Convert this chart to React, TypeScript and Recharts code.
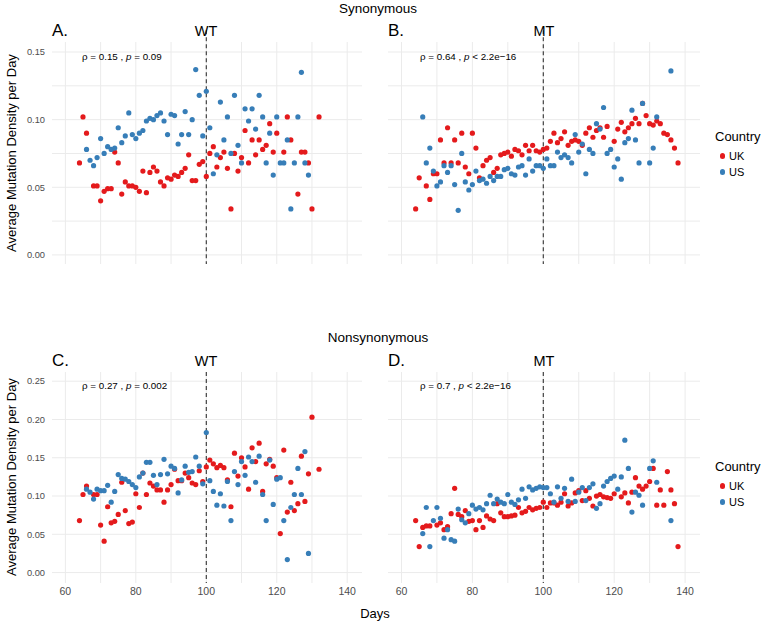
import React from "react";
import {
  ScatterChart,
  Scatter,
  XAxis,
  YAxis,
  CartesianGrid,
  ReferenceLine,
} from "recharts";

// [day, average mutation density]
const synWtUK: [number, number][] = [
  [64, 0.068], [65, 0.102], [66, 0.09], [68, 0.051], [69, 0.051], [70, 0.04], [71, 0.047], [72, 0.049],
  [73, 0.049], [74, 0.076], [75, 0.068], [76, 0.045], [77, 0.054], [78, 0.051], [79, 0.051], [80, 0.05],
  [81, 0.047], [82, 0.062], [83, 0.046], [84, 0.061], [85, 0.065], [86, 0.062], [87, 0.054], [88, 0.051],
  [89, 0.057], [90, 0.056], [91, 0.059], [92, 0.058], [93, 0.061], [94, 0.064], [95, 0.074], [96, 0.055],
  [97, 0.055], [98, 0.067], [99, 0.069], [100, 0.058], [101, 0.075], [102, 0.08], [103, 0.065], [104, 0.072],
  [105, 0.076], [106, 0.064], [107, 0.034], [108, 0.075], [109, 0.062], [110, 0.072], [111, 0.092], [112, 0.068],
  [113, 0.085], [114, 0.074], [115, 0.085], [116, 0.078], [117, 0.081], [118, 0.097], [119, 0.076], [120, 0.09],
  [122, 0.076], [123, 0.102], [124, 0.085], [126, 0.045], [127, 0.076], [128, 0.076], [129, 0.068], [130, 0.034],
  [132, 0.102],
];
const synWtUS: [number, number][] = [
  [66, 0.078], [67, 0.07], [68, 0.066], [69, 0.072], [70, 0.086], [71, 0.075], [72, 0.08], [73, 0.078],
  [74, 0.079], [75, 0.094], [76, 0.083], [77, 0.088], [78, 0.105], [79, 0.089], [80, 0.086], [81, 0.09],
  [82, 0.092], [83, 0.099], [84, 0.101], [85, 0.1], [86, 0.103], [87, 0.105], [88, 0.099], [89, 0.089],
  [90, 0.104], [91, 0.103], [92, 0.082], [93, 0.089], [94, 0.106], [95, 0.089], [96, 0.1], [97, 0.137],
  [98, 0.118], [99, 0.088], [100, 0.121], [101, 0.094], [102, 0.06], [103, 0.074], [104, 0.113], [105, 0.085],
  [106, 0.102], [107, 0.075], [108, 0.118], [109, 0.081], [110, 0.068], [111, 0.108], [112, 0.099], [113, 0.108],
  [114, 0.093], [115, 0.118], [116, 0.102], [117, 0.068], [118, 0.09], [119, 0.059], [120, 0.102], [121, 0.068],
  [122, 0.068], [123, 0.085], [124, 0.034], [125, 0.068], [126, 0.102], [127, 0.135], [128, 0.068], [129, 0.059],
];
const synMtUK: [number, number][] = [
  [64, 0.034], [65, 0.057], [67, 0.051], [68, 0.041], [69, 0.06], [70, 0.06], [71, 0.085], [72, 0.068],
  [73, 0.094], [74, 0.068], [75, 0.085], [76, 0.068], [77, 0.09], [78, 0.065], [79, 0.06], [80, 0.09],
  [81, 0.079], [82, 0.057], [83, 0.066], [84, 0.07], [85, 0.072], [86, 0.061], [87, 0.064], [88, 0.074],
  [89, 0.075], [90, 0.076], [91, 0.073], [92, 0.078], [93, 0.077], [94, 0.074], [95, 0.081], [96, 0.077],
  [97, 0.081], [98, 0.077], [99, 0.076], [100, 0.078], [101, 0.079], [102, 0.084], [103, 0.09], [104, 0.083],
  [105, 0.086], [106, 0.091], [107, 0.081], [108, 0.084], [109, 0.085], [110, 0.084], [111, 0.081], [112, 0.09],
  [113, 0.094], [114, 0.087], [115, 0.092], [116, 0.094], [117, 0.087], [118, 0.095], [120, 0.084], [121, 0.093],
  [122, 0.098], [123, 0.091], [124, 0.094], [125, 0.097], [126, 0.101], [127, 0.097], [128, 0.112], [129, 0.103],
  [130, 0.097], [131, 0.096], [132, 0.099], [133, 0.097], [134, 0.09], [135, 0.089], [136, 0.085], [137, 0.079],
  [138, 0.068],
];
const synMtUS: [number, number][] = [
  [66, 0.102], [67, 0.068], [68, 0.079], [69, 0.062], [70, 0.051], [71, 0.054], [72, 0.066], [73, 0.061],
  [74, 0.066], [75, 0.052], [76, 0.033], [77, 0.075], [78, 0.054], [79, 0.048], [80, 0.052], [81, 0.062],
  [82, 0.055], [83, 0.056], [84, 0.053], [85, 0.058], [86, 0.055], [87, 0.058], [88, 0.058], [89, 0.063],
  [90, 0.064], [91, 0.06], [92, 0.059], [93, 0.065], [94, 0.066], [95, 0.059], [96, 0.071], [97, 0.062],
  [98, 0.066], [99, 0.066], [100, 0.064], [101, 0.071], [102, 0.066], [103, 0.066], [104, 0.076], [105, 0.072],
  [106, 0.074], [107, 0.072], [108, 0.068], [109, 0.089], [110, 0.076], [111, 0.082], [112, 0.06], [113, 0.078],
  [114, 0.075], [115, 0.097], [116, 0.093], [117, 0.109], [118, 0.075], [119, 0.078], [120, 0.065], [121, 0.071],
  [122, 0.056], [123, 0.083], [124, 0.086], [125, 0.107], [126, 0.085], [127, 0.068], [128, 0.112], [130, 0.068],
  [131, 0.079], [132, 0.102], [136, 0.136],
];
const nonWtUK: [number, number][] = [
  [64, 0.068], [65, 0.102], [66, 0.113], [68, 0.102], [69, 0.102], [70, 0.062], [71, 0.041], [72, 0.086],
  [73, 0.065], [74, 0.067], [75, 0.076], [76, 0.118], [77, 0.081], [78, 0.064], [79, 0.066], [80, 0.103],
  [81, 0.085], [82, 0.13], [83, 0.102], [84, 0.117], [85, 0.113], [86, 0.108], [87, 0.108], [88, 0.092],
  [89, 0.108], [90, 0.115], [91, 0.135], [92, 0.12], [93, 0.12], [94, 0.13], [95, 0.124], [96, 0.117],
  [97, 0.115], [98, 0.133], [99, 0.119], [100, 0.138], [101, 0.147], [102, 0.142], [103, 0.137], [104, 0.14],
  [105, 0.137], [106, 0.121], [107, 0.086], [108, 0.156], [109, 0.126], [110, 0.15], [111, 0.138], [112, 0.109],
  [113, 0.163], [114, 0.145], [115, 0.169], [116, 0.106], [117, 0.142], [118, 0.148], [119, 0.139], [120, 0.124],
  [121, 0.051], [122, 0.16], [123, 0.079], [124, 0.118], [125, 0.081], [126, 0.09], [127, 0.152], [128, 0.093],
  [129, 0.129], [130, 0.203], [132, 0.135],
];
const nonWtUS: [number, number][] = [
  [66, 0.109], [67, 0.105], [68, 0.096], [69, 0.109], [70, 0.107], [71, 0.107], [72, 0.114], [73, 0.092],
  [74, 0.106], [75, 0.128], [76, 0.123], [77, 0.122], [78, 0.119], [79, 0.115], [80, 0.111], [81, 0.125],
  [82, 0.13], [83, 0.144], [84, 0.144], [85, 0.127], [86, 0.115], [87, 0.128], [88, 0.148], [89, 0.129],
  [90, 0.139], [91, 0.136], [92, 0.104], [93, 0.121], [94, 0.139], [95, 0.131], [96, 0.132], [97, 0.151],
  [98, 0.139], [99, 0.116], [100, 0.183], [101, 0.12], [102, 0.106], [103, 0.088], [104, 0.103], [105, 0.087],
  [106, 0.119], [107, 0.068], [108, 0.132], [109, 0.115], [110, 0.145], [111, 0.127], [112, 0.151], [113, 0.145],
  [114, 0.118], [115, 0.152], [116, 0.102], [117, 0.068], [118, 0.147], [119, 0.089], [120, 0.122], [121, 0.124],
  [122, 0.068], [123, 0.017], [124, 0.085], [125, 0.102], [126, 0.136], [127, 0.102], [128, 0.158], [129, 0.025],
];
const nonMtUK: [number, number][] = [
  [64, 0.068], [65, 0.034], [66, 0.059], [67, 0.061], [68, 0.061], [70, 0.062], [71, 0.065], [72, 0.056],
  [73, 0.06], [74, 0.077], [75, 0.11], [76, 0.076], [77, 0.073], [78, 0.081], [79, 0.067], [80, 0.068],
  [81, 0.056], [82, 0.068], [83, 0.059], [84, 0.074], [85, 0.07], [86, 0.068], [87, 0.09], [88, 0.078],
  [89, 0.073], [90, 0.073], [91, 0.074], [92, 0.075], [93, 0.085], [94, 0.078], [95, 0.08], [96, 0.085],
  [97, 0.082], [98, 0.084], [99, 0.085], [100, 0.092], [101, 0.085], [102, 0.091], [103, 0.091], [104, 0.088],
  [105, 0.092], [106, 0.103], [107, 0.087], [108, 0.091], [109, 0.104], [110, 0.107], [111, 0.094], [112, 0.107],
  [113, 0.097], [114, 0.087], [115, 0.1], [116, 0.102], [117, 0.099], [118, 0.098], [119, 0.097], [120, 0.103],
  [122, 0.099], [123, 0.104], [124, 0.091], [125, 0.105], [126, 0.124], [127, 0.113], [128, 0.109], [129, 0.113],
  [130, 0.119], [131, 0.136], [132, 0.088], [133, 0.108], [134, 0.088], [135, 0.132], [136, 0.108], [137, 0.09],
  [138, 0.034],
];
const nonMtUS: [number, number][] = [
  [66, 0.051], [67, 0.085], [68, 0.034], [69, 0.068], [70, 0.085], [71, 0.071], [72, 0.045], [73, 0.056],
  [74, 0.043], [75, 0.041], [76, 0.083], [77, 0.069], [78, 0.065], [79, 0.077], [80, 0.088], [81, 0.083],
  [82, 0.085], [83, 0.082], [84, 0.09], [85, 0.101], [86, 0.09], [87, 0.096], [88, 0.092], [89, 0.09],
  [90, 0.102], [91, 0.092], [92, 0.089], [93, 0.095], [94, 0.109], [95, 0.097], [96, 0.112], [97, 0.108],
  [98, 0.11], [99, 0.112], [100, 0.111], [101, 0.111], [102, 0.103], [103, 0.092], [104, 0.112], [105, 0.097],
  [106, 0.11], [107, 0.093], [108, 0.122], [109, 0.093], [110, 0.105], [111, 0.111], [112, 0.094], [113, 0.111],
  [114, 0.116], [115, 0.084], [116, 0.09], [117, 0.113], [118, 0.119], [119, 0.123], [120, 0.126], [121, 0.109],
  [122, 0.125], [123, 0.173], [124, 0.136], [125, 0.079], [126, 0.105], [127, 0.101], [128, 0.088], [130, 0.136],
  [131, 0.146], [132, 0.118], [136, 0.068],
];

const xTicks = [60, 80, 100, 120, 140];
const xGrid = [60, 70, 80, 90, 100, 110, 120, 130, 140];
const synTicks = [0, 0.05, 0.1, 0.15];
const synGrid = [0, 0.025, 0.05, 0.075, 0.1, 0.125, 0.15];
const nonTicks = [0, 0.05, 0.1, 0.15, 0.2, 0.25];
const nonGrid = [0, 0.025, 0.05, 0.075, 0.1, 0.125, 0.15, 0.175, 0.2, 0.225, 0.25];

const UK_COLOR = "#E41A1C";
const US_COLOR = "#377EB8";
const FONT = "'Liberation Sans', Arial, Helvetica, sans-serif";

const toPoints = (rows: [number, number][]) => rows.map(([day, v]) => ({ day, v }));

const dot = (color: string) => (props: any) =>
  <circle cx={props.cx} cy={props.cy} r={2.6} fill={color} />;

type PanelProps = {
  left: number;
  top: number;
  uk: [number, number][];
  us: [number, number][];
  yDomain: [number, number];
  yTicks: number[];
  yGrid: number[];
  showY: boolean;
  showX: boolean;
  plotHeight: number;
  lineTop: number;
};

function Panel(p: PanelProps) {
  const width = p.showY ? 370 : 330;
  const height = 14 + p.plotHeight + (p.showX ? 20 : 0);
  return (
    <div style={{ position: "absolute", left: p.left, top: p.top }}>
      <ScatterChart
        width={width}
        height={height}
        margin={{ top: 14, right: p.showY ? 8 : 10, bottom: 0, left: p.showY ? 0 : 8 }}
        style={{ overflow: "visible" }}
      >
        <CartesianGrid
          stroke="#EBEBEB"
          verticalValues={xGrid}
          horizontalValues={p.yGrid}
        />
        <XAxis
          type="number"
          dataKey="day"
          domain={[56.2, 144.2]}
          ticks={xTicks}
          allowDataOverflow
          hide={!p.showX}
          height={20}
          axisLine={false}
          tickLine={false}
          tickSize={4}
          tickMargin={1}
          tick={{ fill: "#4D4D4D", fontSize: 10.5, fontFamily: FONT }}
        />
        <YAxis
          type="number"
          dataKey="v"
          domain={p.yDomain}
          ticks={p.yTicks}
          allowDataOverflow
          hide={!p.showY}
          width={52}
          axisLine={false}
          tickLine={false}
          tickSize={5}
          tickMargin={2}
          tickFormatter={(v: number) => v.toFixed(2)}
          tick={{ fill: "#4D4D4D", fontSize: 9.3, fontFamily: FONT }}
        />
        <ReferenceLine
          segment={[
            { x: 100, y: p.lineTop },
            { x: 100, y: p.yDomain[0] },
          ]}
          stroke="#333333"
          strokeWidth={1.1}
          strokeDasharray="4 3"
          ifOverflow="visible"
        />
        <Scatter data={toPoints(p.uk)} shape={dot(UK_COLOR)} isAnimationActive={false} />
        <Scatter data={toPoints(p.us)} shape={dot(US_COLOR)} isAnimationActive={false} />
      </ScatterChart>
    </div>
  );
}

function Txt(props: {
  x: number;
  y: number;
  size: number;
  align?: "left" | "center";
  children: React.ReactNode;
  color?: string;
}) {
  const centered = props.align === "center";
  return (
    <div
      style={{
        position: "absolute",
        left: props.x,
        top: props.y - props.size / 2,
        fontSize: props.size,
        lineHeight: `${props.size}px`,
        whiteSpace: "nowrap",
        color: props.color || "#000",
        transform: centered ? "translateX(-50%)" : undefined,
      }}
    >
      {props.children}
    </div>
  );
}

function Stat({ x, y, rho, p }: { x: number; y: number; rho: string; p: React.ReactNode }) {
  return (
    <Txt x={x} y={y} size={9.8}>
      ρ = {rho} , <i>p</i> {p}
    </Txt>
  );
}

function Legend({ top }: { top: number }) {
  return (
    <>
      <Txt x={715} y={top} size={13}>Country</Txt>
      {[
        ["UK", UK_COLOR, top + 20],
        ["US", US_COLOR, top + 36],
      ].map(([label, color, y]) => (
        <React.Fragment key={label as string}>
          <div
            style={{
              position: "absolute",
              left: 720,
              top: (y as number) - 2.6,
              width: 5.2,
              height: 5.2,
              borderRadius: "50%",
              background: color as string,
            }}
          />
          <Txt x={729} y={y as number} size={11}>{label}</Txt>
        </React.Fragment>
      ))}
    </>
  );
}

function YTitle({ y }: { y: number }) {
  return (
    <div
      style={{
        position: "absolute",
        left: 11,
        top: y,
        fontSize: 13,
        lineHeight: "13px",
        whiteSpace: "nowrap",
        transform: "translate(-50%, -50%) rotate(-90deg)",
      }}
    >
      Average Mutation Density per Day
    </div>
  );
}

export default function App() {
  return (
    <div
      style={{
        position: "absolute",
        left: 0,
        top: 0,
        width: 762,
        height: 626,
        background: "#fff",
        fontFamily: FONT,
        overflow: "hidden",
      }}
    >
      <Panel left={0} top={28} uk={synWtUK} us={synWtUS} yDomain={[-0.0067, 0.1574]} yTicks={synTicks}
        yGrid={synGrid} showY showX={false} plotHeight={222} lineTop={0.166} />
      <Panel left={380} top={28} uk={synMtUK} us={synMtUS} yDomain={[-0.0067, 0.1574]} yTicks={synTicks}
        yGrid={synGrid} showY={false} showX={false} plotHeight={222} lineTop={0.166} />
      <Panel left={0} top={358} uk={nonWtUK} us={nonWtUS} yDomain={[-0.0136, 0.262]} yTicks={nonTicks}
        yGrid={nonGrid} showY showX plotHeight={211} lineTop={0.262} />
      <Panel left={380} top={358} uk={nonMtUK} us={nonMtUS} yDomain={[-0.0136, 0.262]} yTicks={nonTicks}
        yGrid={nonGrid} showY={false} showX plotHeight={211} lineTop={0.262} />

      <Txt x={378} y={9} size={13.5} align="center">Synonymous</Txt>
      <Txt x={52} y={30} size={17}>A.</Txt>
      <Txt x={206} y={31} size={14.5} align="center">WT</Txt>
      <Txt x={388} y={30} size={17}>B.</Txt>
      <Txt x={544} y={31} size={14.5} align="center">MT</Txt>

      <Txt x={378} y={338} size={13.5} align="center">Nonsynonymous</Txt>
      <Txt x={52} y={360} size={17}>C.</Txt>
      <Txt x={206} y={361} size={14.5} align="center">WT</Txt>
      <Txt x={388} y={360} size={17}>D.</Txt>
      <Txt x={544} y={361} size={14.5} align="center">MT</Txt>

      <Stat x={82} y={57} rho="0.15" p="= 0.09" />
      <Stat x={420} y={57} rho="0.64" p="< 2.2e−16" />
      <Stat x={82} y={386} rho="0.27" p="= 0.002" />
      <Stat x={420} y={386} rho="0.7" p="< 2.2e−16" />

      <YTitle y={153} />
      <YTitle y={477} />
      <Txt x={375} y={613} size={13} align="center">Days</Txt>

      <Legend top={136} />
      <Legend top={466} />
    </div>
  );
}
